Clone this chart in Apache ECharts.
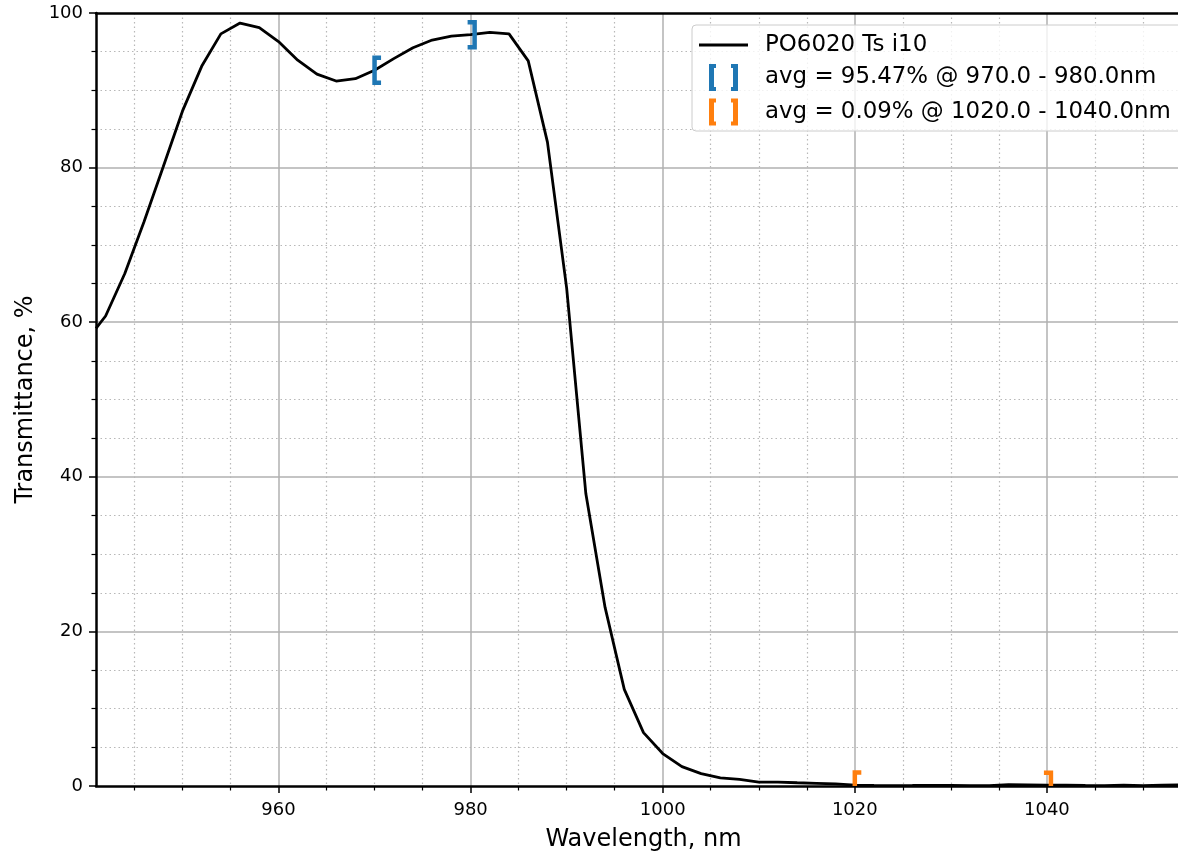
<!DOCTYPE html>
<html>
<head>
<meta charset="utf-8">
<script src="https://cdn.jsdelivr.net/npm/echarts@6/dist/echarts.min.js"></script>
<style>
html,body{margin:0;padding:0;background:#fff;overflow:hidden;}
#chart{width:1178px;height:855px;}
</style>
</head>
<body>
<div id="chart"></div>
<script>
// ---- data ----
const wavelengths = [941, 942, 944, 946, 948, 950, 952, 954, 956, 958, 960, 962, 964, 966, 968, 970, 972, 974, 976, 978, 980,
  982, 984, 986, 988, 990, 992, 994, 996, 998, 1000, 1002, 1004, 1006, 1008, 1010, 1012, 1014, 1016, 1018, 1020,
  1022, 1024, 1026, 1028, 1030, 1032, 1034, 1036, 1038, 1040, 1042, 1044, 1046, 1048, 1050, 1052, 1054];
const transmittance = [59.2, 60.8, 66.3, 73.0, 80.1, 87.3, 93.1, 97.3, 98.7, 98.1, 96.3, 93.9, 92.1, 91.2, 91.5, 92.6, 94.1, 95.5, 96.5, 97.0, 97.2,
  97.5, 97.3, 93.8, 83.3, 64.4, 37.8, 23.1, 12.5, 6.9, 4.2, 2.5, 1.6, 1.05, 0.85, 0.5, 0.5, 0.42, 0.35, 0.28, 0.12,
  0.08, 0.06, 0.07, 0.09, 0.08, 0.06, 0.04, 0.18, 0.14, 0.10, 0.12, 0.08, 0.05, 0.12, 0.06, 0.12, 0.14];

const seriesName = 'PO6020 Ts i10';
const blueName = 'avg = 95.47% @ 970.0 - 980.0nm';
const orangeName = 'avg = 0.09% @ 1020.0 - 1040.0nm';
const blueBracketX = [970, 980];
const blueBracketY = [92.6, 97.2];
const orangeBracketX = [1020, 1040];
const orangeBracketY = [0.12, 0.10];
const bracketKind = [0, 1]; // 0 = "[", 1 = "]"

const xMajorTicks = [960, 980, 1000, 1020, 1040];
const xMinorTicks = [945, 950, 955, 965, 970, 975, 985, 990, 995, 1005, 1010, 1015, 1025, 1030, 1035, 1045, 1050, 1055];

const FONT = 'DejaVu Sans';
const chart = echarts.init(document.getElementById('chart'), null, {renderer: 'canvas'});

function bracketRender(params, api) {
  const x = api.value(0), y = api.value(1), kind = api.value(2);
  const p = api.coord([x, y]);
  const h = 12.5;
  let pts;
  if (kind === 0) {
    pts = [[p[0] + 6.5, p[1] - h], [p[0], p[1] - h], [p[0], p[1] + h], [p[0] + 6.5, p[1] + h]];
  } else {
    pts = [[p[0] - 3, p[1] - h], [p[0] + 4, p[1] - h], [p[0] + 4, p[1] + h], [p[0] - 3, p[1] + h]];
  }
  const cs = params.coordSys;
  return {
    type: 'polyline',
    shape: {points: pts},
    style: {stroke: api.visual('color'), lineWidth: 4.5, fill: null, lineJoin: 'miter', lineCap: 'butt'},
    clipPath: {type: 'rect', shape: {x: cs.x, y: cs.y, width: cs.width, height: cs.height}}
  };
}

const bracketIcon = 'path://M0,0 H7 V4 H5 V23 H7 V27 H0 Z M22,0 H29 V27 H22 V23 H24 V4 H22 Z';
const lineIcon = 'path://M0,0 H49 V3 H0 Z';
const plain = v => String(v);

const option = {
  animation: false,
  backgroundColor: '#fff',
  grid: {left: 96, top: 13, width: 1095, bottom: 69, containLabel: false, outerBoundsMode: 'none'},
  legend: {
    orient: 'vertical',
    left: 692, top: 25,
    padding: [8.5, 30, 5.5, 7],
    itemWidth: 49, itemHeight: 27, itemGap: 7.5,
    selectedMode: false,
    backgroundColor: 'rgba(255,255,255,0.8)',
    borderColor: '#cccccc', borderWidth: 1, borderRadius: 4,
    textStyle: {fontFamily: FONT, fontSize: 22.9, color: '#000', padding: [0, 0, 0, 12]},
    data: [
      {name: seriesName, icon: lineIcon},
      {name: blueName, icon: bracketIcon},
      {name: orangeName, icon: bracketIcon}
    ]
  },
  xAxis: [
    {
      type: 'value', min: 941, max: 1055, position: 'bottom',
      name: 'Wavelength, nm', nameLocation: 'middle', nameGap: 42,
      nameTextStyle: {fontFamily: FONT, fontSize: 24, color: '#000'},
      axisLine: {show: true, onZero: false, lineStyle: {color: '#000', width: 2.5}},
      axisTick: {show: true, customValues: xMajorTicks, length: 7, lineStyle: {color: '#000', width: 1.5}},
      axisLabel: {show: true, customValues: xMajorTicks, formatter: plain, margin: 15, fontFamily: FONT, fontSize: 18, color: '#000'},
      splitLine: {show: true, lineStyle: {color: '#b0b0b0', width: 1.5, type: 'solid'}},
      minorTick: {show: false}, minorSplitLine: {show: false}
    },
    {
      type: 'value', min: 941, max: 1055, position: 'bottom',
      axisLine: {show: false, onZero: false},
      axisTick: {show: true, customValues: xMinorTicks, length: 4.5, lineStyle: {color: '#000', width: 1.2}},
      axisLabel: {show: false},
      splitLine: {show: true, lineStyle: {color: '#b8b8b8', width: 1.2, type: [1.5, 3]}}
    },
    {
      type: 'value', min: 941, max: 1055, position: 'top', z: 5,
      axisLine: {show: true, onZero: false, lineStyle: {color: '#000', width: 2.5}},
      axisTick: {show: false}, axisLabel: {show: false}, splitLine: {show: false}
    }
  ],
  yAxis: {
    type: 'value', min: 0, max: 100, interval: 20,
    name: 'Transmittance, %', nameLocation: 'middle', nameGap: 58, nameRotate: 90,
    nameTextStyle: {fontFamily: FONT, fontSize: 24, color: '#000'},
    axisLine: {show: true, onZero: false, lineStyle: {color: '#000', width: 2.5}},
    axisTick: {show: true, length: 7, lineStyle: {color: '#000', width: 1.5}},
    axisLabel: {margin: 13, formatter: plain, fontFamily: FONT, fontSize: 18, color: '#000'},
    splitLine: {show: true, showMinLine: false, showMaxLine: false, lineStyle: {color: '#b0b0b0', width: 1.5}},
    minorTick: {show: true, splitNumber: 4, length: 4.5, lineStyle: {color: '#000', width: 1.2}},
    minorSplitLine: {show: true, lineStyle: {color: '#b8b8b8', width: 1.2, type: [1.5, 3]}}
  },
  series: [
    {
      name: seriesName, type: 'line', xAxisIndex: 0,
      data: wavelengths.map((w, i) => [w, transmittance[i]]),
      showSymbol: false, symbol: 'none',
      lineStyle: {color: '#000', width: 2.8},
      itemStyle: {color: '#000'},
      z: 3
    },
    {
      name: blueName, type: 'custom', xAxisIndex: 0,
      renderItem: bracketRender,
      itemStyle: {color: '#1f77b4'},
      data: blueBracketX.map((x, i) => [x, blueBracketY[i], bracketKind[i]]),
      z: 4
    },
    {
      name: orangeName, type: 'custom', xAxisIndex: 0,
      renderItem: bracketRender,
      itemStyle: {color: '#ff7f0e'},
      data: orangeBracketX.map((x, i) => [x, orangeBracketY[i], bracketKind[i]]),
      z: 4
    }
  ]
};
chart.setOption(option);
</script>
</body>
</html>
